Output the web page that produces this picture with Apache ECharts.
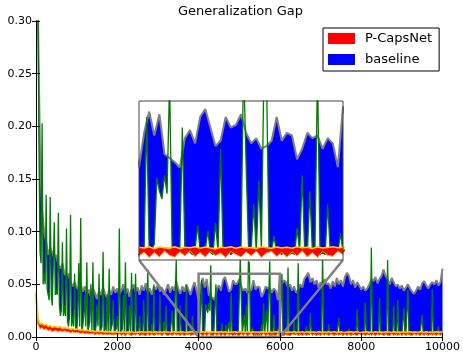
<!DOCTYPE html>
<html>
<head>
<meta charset="utf-8">
<script src="https://cdn.jsdelivr.net/npm/echarts@6/dist/echarts.min.js"></script>
<style>
  html, body { margin: 0; padding: 0; background: #fff; }
  #gap { width: 463px; height: 356px; }
</style>
</head>
<body>
<div id="gap"></div>
<script>
// readings every 50 iterations (grey / caps curves) and every 25 (green spikes)
var iters50 = [];
for (var i = 0; i <= 10000; i += 50) iters50.push(i);
var iters25 = [];
for (var j = 0; j <= 10000; j += 25) iters25.push(j);

// baseline: grey upper curve (every 50)
var baselineTop = [
  0.32, 0.30, 0.17, 0.12, 0.10, 0.09, 0.078, 0.085, 0.08, 0.075,
  0.078, 0.068, 0.065, 0.07, 0.06, 0.058, 0.06, 0.052, 0.048, 0.052,
  0.047, 0.045, 0.05, 0.043, 0.048, 0.04, 0.045, 0.038, 0.046, 0.042,
  0.036, 0.044, 0.04, 0.047, 0.041, 0.037, 0.045, 0.04, 0.048, 0.042,
  0.046, 0.04, 0.044, 0.05, 0.041, 0.046, 0.038, 0.045, 0.05, 0.043,
  0.047, 0.04, 0.049, 0.044, 0.051, 0.042, 0.046, 0.04, 0.048, 0.045,
  0.05, 0.043, 0.047, 0.04, 0.045, 0.05, 0.042, 0.048, 0.044, 0.052,
  0.046, 0.041, 0.048, 0.043, 0.05, 0.045, 0.04, 0.047, 0.052, 0.044,
  0.035, 0.048, 0.056, 0.047, 0.055, 0.04, 0.0385, 0.037, 0.035, 0.046,
  0.049, 0.044, 0.054, 0.057, 0.05, 0.043, 0.045, 0.054, 0.05, 0.051,
  0.055, 0.048, 0.044, 0.046, 0.042, 0.043, 0.045, 0.054, 0.045, 0.048,
  0.047, 0.038, 0.042, 0.048, 0.046, 0.047, 0.042, 0.046, 0.044, 0.035,
  0.058, 0.05, 0.054, 0.052, 0.047, 0.05, 0.044, 0.048, 0.042, 0.045,
  0.05, 0.047, 0.055, 0.058, 0.061, 0.052, 0.056, 0.05, 0.054, 0.047,
  0.052, 0.049, 0.055, 0.05, 0.051, 0.046, 0.053, 0.048, 0.056, 0.05,
  0.054, 0.048, 0.057, 0.061, 0.058, 0.05, 0.054, 0.047, 0.052, 0.049,
  0.045, 0.048, 0.044, 0.046, 0.05, 0.055, 0.053, 0.057, 0.051, 0.055,
  0.058, 0.064, 0.058, 0.055, 0.05, 0.056, 0.052, 0.048, 0.05, 0.046,
  0.049, 0.044, 0.047, 0.05, 0.046, 0.043, 0.041, 0.044, 0.048, 0.045,
  0.051, 0.053, 0.049, 0.046, 0.05, 0.052, 0.05, 0.054, 0.049, 0.052,
  0.065
];

// baseline: green spiky lower curve (every 25)
var baselineLow = [
  0.32, 0.32, 0.31, 0.17, 0.08, 0.07, 0.203, 0.05, 0.06, 0.05, 0.135, 0.045, 0.04, 0.035, 0.133, 0.04, 0.03, 0.03, 0.109, 0.04,
  0.045, 0.04, 0.118, 0.03, 0.02, 0.025, 0.09, 0.02, 0.03, 0.02, 0.103, 0.015, 0.01, 0.02, 0.116, 0.01, 0.02, 0.01, 0.06, 0.008,
  0.005, 0.02, 0.07, 0.01, 0.113, 0.005, 0.01, 0.02, 0.04, 0.01, 0.071, 0.004, 0.005, 0.015, 0.05, 0.006, 0.071, 0.004, 0.002, 0.01,
  0.03, 0.01, 0.06, 0.004, 0.005, 0.01, 0.081, 0.005, 0.01, 0.006, 0.04, 0.003, 0.065, 0.004, 0.003, 0.012, 0.035, 0.004, 0.005, 0.008,
  0.02, 0.004, 0.103, 0.003, 0.005, 0.008, 0.04, 0.003, 0.071, 0.004, 0.003, 0.006, 0.03, 0.003, 0.061, 0.002, 0.002, 0.004, 0.06, 0.003,
  0.003, 0.005, 0.02, 0.003, 0.004, 0.002, 0.035, 0.003, 0.002, 0.004, 0.064, 0.002, 0.003, 0.004, 0.012, 0.003, 0.05, 0.002, 0.002, 0.004,
  0.004, 0.003, 0.04, 0.002, 0.002, 0.004, 0.015, 0.003, 0.03, 0.002, 0.003, 0.005, 0.002, 0.003, 0.025, 0.002, 0.004, 0.003, 0.073, 0.002,
  0.002, 0.004, 0.03, 0.003, 0.005, 0.002, 0.002, 0.004, 0.049, 0.002, 0.003, 0.004, 0.01, 0.003, 0.02, 0.002, 0.002, 0.005, 0.004, 0.002,
  0.002, 0.004, 0.003, 0.054, 0.003, 0.004, 0.006, 0.031, 0.026, 0.023, 0.032, 0.025, 0.068, 0.003, 0.002, 0.004, 0.003, 0.05, 0.003, 0.004,
  0.003, 0.002, 0.004, 0.013, 0.003, 0.002, 0.004, 0.011, 0.003, 0.002, 0.014, 0.003, 0.042, 0.002, 0.003, 0.004, 0.002, 0.003, 0.004, 0.002,
  0.003, 0.075, 0.036, 0.003, 0.004, 0.021, 0.003, 0.03, 0.004, 0.072, 0.07, 0.003, 0.004, 0.009, 0.002, 0.003, 0.002, 0.004, 0.003, 0.002,
  0.003, 0.002, 0.012, 0.003, 0.032, 0.003, 0.002, 0.026, 0.003, 0.004, 0.072, 0.002, 0.003, 0.002, 0.021, 0.003, 0.002, 0.004, 0.003, 0.01,
  0.003, 0.004, 0.06, 0.002, 0.002, 0.003, 0.004, 0.002, 0.066, 0.003, 0.003, 0.002, 0.002, 0.004, 0.015, 0.002, 0.003, 0.004, 0.07, 0.002,
  0.002, 0.003, 0.004, 0.002, 0.002, 0.004, 0.01, 0.003, 0.003, 0.002, 0.023, 0.003, 0.002, 0.004, 0.004, 0.002, 0.003, 0.004, 0.002, 0.003,
  0.005, 0.002, 0.078, 0.003, 0.002, 0.004, 0.003, 0.002, 0.012, 0.003, 0.002, 0.004, 0.004, 0.002, 0.003, 0.004, 0.002, 0.003, 0.018, 0.002,
  0.003, 0.004, 0.002, 0.003, 0.005, 0.002, 0.002, 0.004, 0.008, 0.002, 0.003, 0.004, 0.002, 0.003, 0.004, 0.002, 0.026, 0.003, 0.002, 0.004,
  0.003, 0.002, 0.002, 0.004, 0.033, 0.002, 0.004, 0.003, 0.002, 0.004, 0.085, 0.002, 0.003, 0.004, 0.002, 0.003, 0.004, 0.002, 0.037, 0.003,
  0.002, 0.003, 0.004, 0.002, 0.003, 0.004, 0.073, 0.002, 0.002, 0.004, 0.005, 0.003, 0.03, 0.002, 0.002, 0.004, 0.035, 0.002, 0.003, 0.004,
  0.002, 0.003, 0.028, 0.002, 0.004, 0.003, 0.045, 0.002, 0.002, 0.004, 0.003, 0.002, 0.005, 0.003, 0.002, 0.004, 0.003, 0.002, 0.004, 0.003,
  0.021, 0.002, 0.002, 0.004, 0.003, 0.002, 0.004, 0.003, 0.002, 0.004, 0.045, 0.002, 0.003, 0.004, 0.002, 0.003, 0.01, 0.002, 0.003, 0.004,
  0.004
];

// P-CapsNet: yellow upper curve (every 50)
var capsTop = [
  0.042, 0.018, 0.012, 0.013, 0.011, 0.012, 0.01, 0.011, 0.009, 0.01,
  0.0095, 0.009, 0.01, 0.008, 0.009, 0.008, 0.0085, 0.007, 0.008, 0.007,
  0.0075, 0.007, 0.0065, 0.007, 0.006, 0.0065, 0.006, 0.0055, 0.006, 0.005,
  0.0055, 0.005, 0.0055, 0.0048, 0.005, 0.0045, 0.005, 0.0046, 0.0042, 0.005,
  0.0045, 0.0048, 0.0042, 0.005, 0.0044, 0.0047, 0.004, 0.0049, 0.0045, 0.0043,
  0.0048, 0.0044, 0.005, 0.0042, 0.0047, 0.0045, 0.0049, 0.0043, 0.0046, 0.005,
  0.0044, 0.0047, 0.0042, 0.0049, 0.0045, 0.0048, 0.0043, 0.0046, 0.005, 0.0044,
  0.0047, 0.0043, 0.0049, 0.0045, 0.0042, 0.0048, 0.0046, 0.005, 0.0044, 0.0047,
  0.0048, 0.0045, 0.005, 0.0042, 0.0049, 0.0046, 0.0044, 0.005, 0.0043, 0.0048,
  0.0046, 0.005, 0.0044, 0.0049, 0.0045, 0.0042, 0.0048, 0.0046, 0.005, 0.0044,
  0.0049, 0.0045, 0.0047, 0.0043, 0.005, 0.0046, 0.0044, 0.0049, 0.0045, 0.0048,
  0.0044, 0.005, 0.0046, 0.0048, 0.0043, 0.0049, 0.0045, 0.0047, 0.005, 0.0046,
  0.0048, 0.0044, 0.0049, 0.0046, 0.0042, 0.0048, 0.0045, 0.005, 0.0044, 0.0047,
  0.0045, 0.0049, 0.0043, 0.0047, 0.005, 0.0044, 0.0048, 0.0046, 0.0042, 0.0049,
  0.0046, 0.0043, 0.0048, 0.0045, 0.005, 0.0044, 0.0047, 0.0049, 0.0043, 0.0046,
  0.005, 0.0045, 0.0042, 0.0048, 0.0046, 0.0049, 0.0044, 0.0047, 0.005, 0.0045,
  0.0043, 0.0048, 0.0046, 0.005, 0.0044, 0.0047, 0.0042, 0.0049, 0.0045, 0.0048,
  0.0046, 0.0044, 0.0049, 0.0045, 0.0048, 0.0043, 0.005, 0.0046, 0.0044, 0.0048,
  0.0045, 0.0049, 0.0043, 0.0047, 0.005, 0.0044, 0.0046, 0.0048, 0.0042, 0.0049,
  0.0047, 0.0044, 0.005, 0.0045, 0.0048, 0.0043, 0.0046, 0.0049, 0.0044, 0.0047,
  0.0046
];

// P-CapsNet: lower edge of the red band (every 50)
var capsLow = [
  0.035, 0.012, 0.008, 0.009, 0.007, 0.008, 0.006, 0.007, 0.005, 0.006,
  0.006, 0.005, 0.006, 0.005, 0.006, 0.005, 0.005, 0.004, 0.005, 0.004,
  0.0045, 0.004, 0.0035, 0.004, 0.003, 0.0035, 0.003, 0.003, 0.0035, 0.0025,
  0.003, 0.0025, 0.003, 0.002, 0.0028, 0.002, 0.0025, 0.0022, 0.002, 0.0027,
  0.002, 0.0032, 0.0015, 0.0028, 0.001, 0.0035, 0.0022, 0.0012, 0.003, 0.0018,
  0.0033, 0.0012, 0.0027, 0.002, 0.001, 0.0034, 0.0016, 0.0029, 0.0011, 0.0036,
  0.0018, 0.003, 0.0012, 0.0035, 0.002, 0.0011, 0.0028, 0.0015, 0.0033, 0.0019,
  0.0025, 0.0013, 0.0034, 0.001, 0.0027, 0.0032, 0.0014, 0.0021, 0.0035, 0.0012,
  0.0015, 0.003, 0.001, 0.0028, 0.0012, 0.0034, 0.0018, 0.0011, 0.0031, 0.0016,
  0.0035, 0.0013, 0.0029, 0.0012, 0.0033, 0.0017, 0.0026, 0.001, 0.0032, 0.0021,
  0.0012, 0.0031, 0.0016, 0.0034, 0.001, 0.0027, 0.0033, 0.0014, 0.0029, 0.0011,
  0.0032, 0.0015, 0.0035, 0.0012, 0.0028, 0.001, 0.0033, 0.0018, 0.0014, 0.0034,
  0.002, 0.0034, 0.0012, 0.0031, 0.0017, 0.0011, 0.003, 0.0022, 0.0035, 0.0013,
  0.0029, 0.0014, 0.0033, 0.0011, 0.0026, 0.0034, 0.0015, 0.003, 0.0012, 0.0028,
  0.0013, 0.0032, 0.0017, 0.0035, 0.0011, 0.0029, 0.0021, 0.0014, 0.0033, 0.0016,
  0.0034, 0.0012, 0.0028, 0.0015, 0.0031, 0.001, 0.0035, 0.0019, 0.0013, 0.003,
  0.0016, 0.0033, 0.0011, 0.0027, 0.0035, 0.0014, 0.003, 0.0012, 0.0029, 0.0018,
  0.0032, 0.001, 0.0034, 0.0017, 0.0012, 0.0031, 0.0015, 0.0028, 0.0011, 0.0035,
  0.0014, 0.003, 0.0012, 0.0033, 0.0019, 0.0011, 0.0034, 0.0016, 0.0028, 0.0013,
  0.0031, 0.0015, 0.0035, 0.0012, 0.0029, 0.0017, 0.0032, 0.001, 0.003, 0.0016,
  0.0028
];

var insetX = [4000, 6000];
var insetY = [0, 0.06];

var font = 'DejaVu Sans';

function pairs(xs, vals) {
  return vals.map(function (v, i) { return [xs[i], v]; });
}

// red band between the two P-CapsNet curves, one quad per step
function band(name, low, high, color, xi, yi, z) {
  var data = [];
  for (var i = 0; i < iters50.length - 1; i++) {
    data.push([iters50[i], iters50[i + 1], low[i], high[i], low[i + 1], high[i + 1]]);
  }
  return {
    type: 'custom',
    name: name,
    xAxisIndex: xi,
    yAxisIndex: yi,
    z: z,
    silent: true,
    color: color,
    encode: { x: [0, 1], y: [2, 3, 4, 5] },
    renderItem: function (params, api) {
      var pts = [
        api.coord([api.value(0), api.value(3)]),
        api.coord([api.value(1), api.value(5)]),
        api.coord([api.value(1), api.value(4)]),
        api.coord([api.value(0), api.value(2)])
      ];
      var cs = params.coordSys;
      pts = echarts.graphic.clipPointsByRect(pts, { x: cs.x, y: cs.y, width: cs.width, height: cs.height });
      if (Math.abs(pts[1][0] - pts[0][0]) < 0.01) return null;
      return {
        type: 'polygon',
        shape: { points: pts },
        style: { fill: color, stroke: color, lineWidth: 0.5 }
      };
    },
    data: data
  };
}

function line(name, xs, vals, color, width, area, xi, yi, z) {
  var s = {
    type: 'line', name: name, xAxisIndex: xi, yAxisIndex: yi,
    data: pairs(xs, vals), showSymbol: false, silent: true, z: z,
    lineStyle: area ? { width: 0, opacity: 0 } : { color: color, width: width }
  };
  if (area) {
    s.color = area;
    s.areaStyle = { color: area, opacity: 1 };
  }
  return s;
}

// one full set of marks for a grid (main or inset)
// blue under the grey curve, white under the green one -> blue between them
function seriesFor(xi, yi, z) {
  return [
    line('baseline', iters50, baselineTop, null, 0, '#0000ff', xi, yi, z),
    line('baseline-under', iters25, baselineLow, null, 0, '#ffffff', xi, yi, z + 1),
    line('baseline-top', iters50, baselineTop, '#808080', 2, null, xi, yi, z + 2),
    line('baseline-green', iters25, baselineLow, '#007a00', 1.3, null, xi, yi, z + 3),
    band('P-CapsNet', capsLow, capsTop, '#ff0000', xi, yi, z + 4),
    line('caps-top', iters50, capsTop, '#f5d000', 1.6, null, xi, yi, z + 5),
    line('caps-bottom', iters50, capsLow, '#e8c800', 0.8, null, xi, yi, z + 5)
  ];
}

var dom = document.getElementById('gap');
var myChart = echarts.init(dom, null, { renderer: 'canvas' });

var frameAxis = {
  axisLine: { show: true, lineStyle: { color: '#000', width: 1 } },
  axisTick: { show: true, inside: true, length: 4, lineStyle: { color: '#000' } },
  splitLine: { show: false },
  z: 12
};

var option = {
  animation: false,
  backgroundColor: '#fff',
  title: {
    text: 'Generalization Gap',
    left: 178,
    top: 5,
    padding: 0,
    textStyle: { fontFamily: font, fontSize: 13, fontWeight: 'normal', color: '#000' }
  },
  legend: {
    orient: 'vertical',
    left: 323,
    top: 28,
    padding: [3, 7, 4, 5],
    itemGap: 6,
    itemWidth: 27,
    itemHeight: 11,
    icon: 'rect',
    selectedMode: false,
    backgroundColor: '#fff',
    borderColor: '#000',
    borderWidth: 1,
    z: 40,
    textStyle: { fontFamily: font, fontSize: 13, color: '#000', lineHeight: 15, padding: [0, 0, 0, 5] },
    data: [
      { name: 'P-CapsNet', itemStyle: { color: '#ff0000' } },
      { name: 'baseline', itemStyle: { color: '#0000ff' } }
    ]
  },
  grid: [
    { left: 36, right: 18, top: 21, bottom: 19 },
    { left: 139, top: 101, width: 204, height: 159, show: true, backgroundColor: '#fff', borderWidth: 0, z: 15 }
  ],
  xAxis: [
    Object.assign({}, frameAxis, {
      type: 'value', gridIndex: 0, position: 'bottom', min: 0, max: 10000, interval: 2000,
      axisLabel: { fontFamily: font, fontSize: 11, color: '#000', margin: 5,
        formatter: function (v) { return String(v); } }
    }),
    Object.assign({}, frameAxis, {
      type: 'value', gridIndex: 0, position: 'top', min: 0, max: 10000, interval: 2000,
      axisLabel: { show: false }
    }),
    { type: 'value', gridIndex: 1, min: insetX[0], max: insetX[1], show: false }
  ],
  yAxis: [
    Object.assign({}, frameAxis, {
      type: 'value', gridIndex: 0, position: 'left', min: 0, max: 0.3, interval: 0.05,
      axisLabel: { fontFamily: font, fontSize: 11, color: '#000', margin: 4,
        formatter: function (v) { return v.toFixed(2); } }
    }),
    Object.assign({}, frameAxis, {
      type: 'value', gridIndex: 0, position: 'right', min: 0, max: 0.3, interval: 0.05,
      axisLabel: { show: false }
    }),
    { type: 'value', gridIndex: 1, min: insetY[0], max: insetY[1], show: false }
  ],
  series: seriesFor(0, 0, 2).concat(seriesFor(2, 2, 16))
};

myChart.setOption(option);

// zoom box, connectors and inset frame, placed from data coords
function drawInsetMarks() {
  var main = { xAxisIndex: 0, yAxisIndex: 0 };
  var ins = { xAxisIndex: 2, yAxisIndex: 2 };
  var a = myChart.convertToPixel(main, [insetX[0], insetY[0]]);
  var b = myChart.convertToPixel(main, [insetX[1], insetY[1]]);
  var c = myChart.convertToPixel(ins, [insetX[0], insetY[0]]);
  var d = myChart.convertToPixel(ins, [insetX[1], insetY[1]]);
  var grey = { stroke: '#808080', lineWidth: 2.5, fill: null };
  myChart.setOption({
    graphic: [
      { type: 'rect', silent: true, z: 10, shape: { x: a[0], y: b[1], width: b[0] - a[0], height: a[1] - b[1] }, style: grey },
      { type: 'line', silent: true, z: 10, shape: { x1: a[0], y1: a[1], x2: c[0], y2: c[1] }, style: grey },
      { type: 'line', silent: true, z: 10, shape: { x1: b[0], y1: a[1], x2: d[0], y2: c[1] }, style: grey },
      { type: 'rect', silent: true, z: 30, shape: { x: c[0], y: d[1], width: d[0] - c[0], height: c[1] - d[1] },
        style: { stroke: '#444', lineWidth: 1, fill: null } }
    ]
  });
}
drawInsetMarks();

window.addEventListener('resize', function () {
  myChart.resize();
  drawInsetMarks();
});
</script>
</body>
</html>
